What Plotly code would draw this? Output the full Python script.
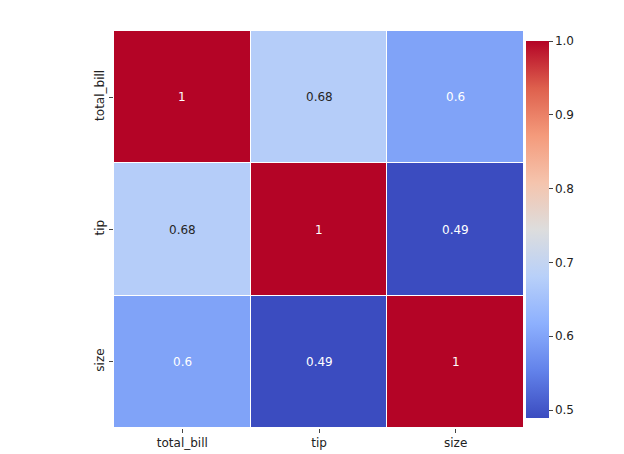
import plotly.graph_objects as go

labels = ["total_bill", "tip", "size"]
corr = [
    [1.0, 0.675734, 0.598315],
    [0.675734, 1.0, 0.489299],
    [0.598315, 0.489299, 1.0],
]

coolwarm = [
    [0.0, "rgb(59,76,192)"],
    [0.125, "rgb(98,130,234)"],
    [0.25, "rgb(141,176,254)"],
    [0.375, "rgb(184,208,249)"],
    [0.5, "rgb(221,221,221)"],
    [0.625, "rgb(245,196,173)"],
    [0.75, "rgb(244,154,123)"],
    [0.875, "rgb(222,96,77)"],
    [1.0, "rgb(180,4,38)"],
]

zmin = min(min(r) for r in corr)
zmax = 1.0

fig = go.Figure(go.Heatmap(
    z=corr, x=labels, y=labels,
    colorscale=coolwarm, zmin=zmin, zmax=zmax,
    xgap=1, ygap=1, hoverinfo="skip",
    colorbar=dict(
        thickness=23, len=1, lenmode="fraction", y=0.5, yanchor="middle",
        x=1.0, xanchor="left", xpad=2, outlinewidth=0,
        tickvals=[0.5, 0.6, 0.7, 0.8, 0.9, 1.0],
        ticktext=["0.5", "0.6", "0.7", "0.8", "0.9", "1.0"],
        ticks="outside", ticklen=4, tickfont=dict(size=12, color="#222"),
    ),
))

for i, row in enumerate(corr):
    for j, v in enumerate(row):
        frac = (v - zmin) / (zmax - zmin)
        col = "white" if (frac < 0.25 or frac > 0.8) else "#262626"
        fig.add_annotation(x=labels[j], y=labels[i], text=f"{v:.2g}",
                           showarrow=False, font=dict(size=12, color=col))

fig.update_layout(
    width=624, height=454,
    margin=dict(l=106, r=108, t=23, b=22),
    plot_bgcolor="white", paper_bgcolor="white",
    font=dict(family="DejaVu Sans", size=12, color="#222"),
    xaxis=dict(ticks="outside", ticklen=4, showgrid=False, zeroline=False),
    yaxis=dict(autorange="reversed", ticks="outside", ticklen=4,
               tickangle=-90, showgrid=False, zeroline=False),
)

fig.write_html("out.html")
